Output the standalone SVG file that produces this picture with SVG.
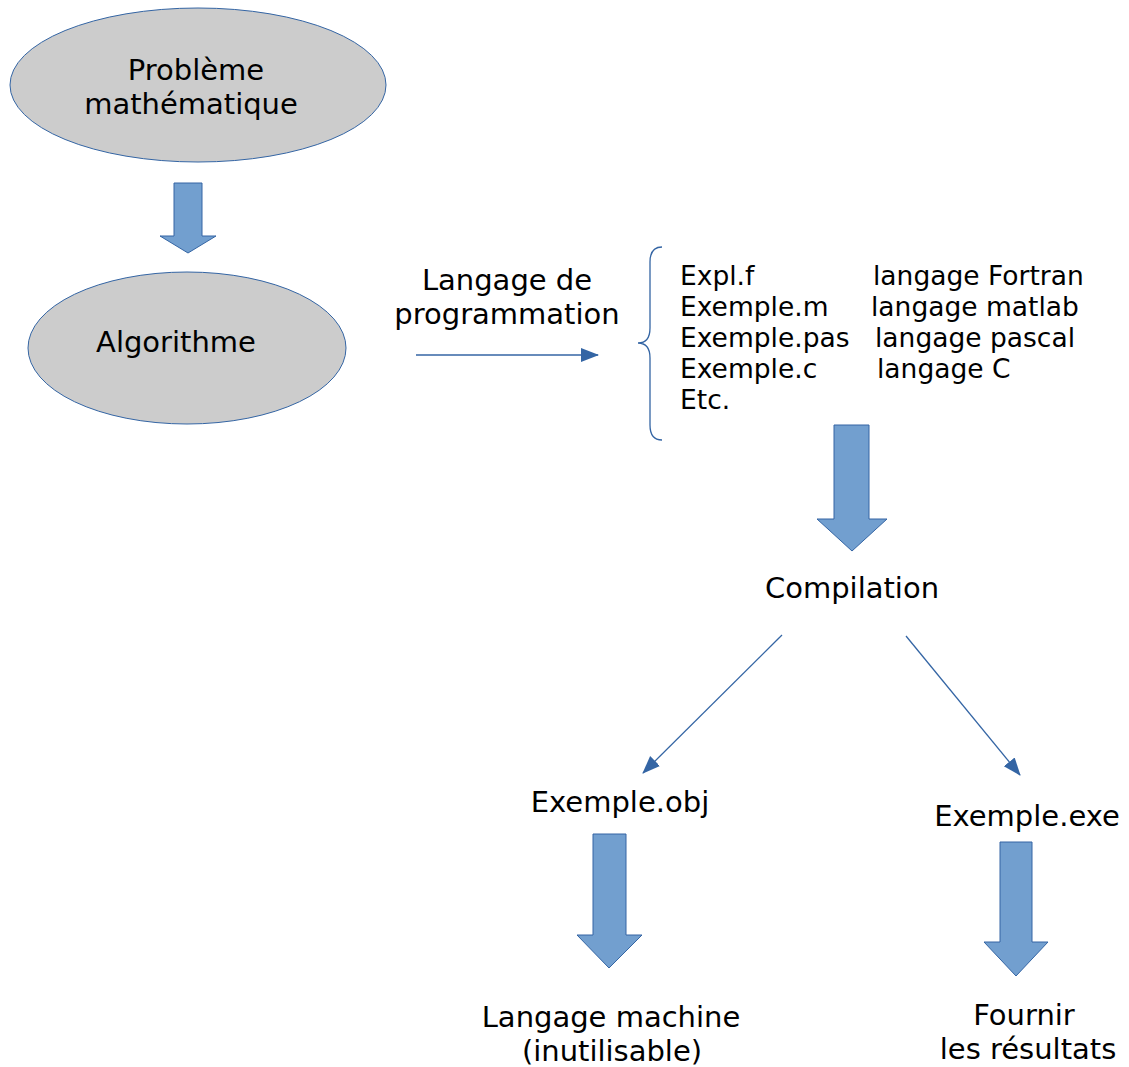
<svg xmlns="http://www.w3.org/2000/svg" width="1129" height="1067" viewBox="0 0 1129 1067">
<style>
.t{font-family:"DejaVu Sans",sans-serif;font-size:29px;fill:#000;text-anchor:middle}
.l{font-family:"DejaVu Sans",sans-serif;font-size:26.5px;fill:#000}
.e{fill:#cccccc;stroke:#3465a4;stroke-width:1}
.b{fill:#729fcf;stroke:#3465a4;stroke-width:1}
.c{fill:none;stroke:#3465a4;stroke-width:1.3}
</style>
<defs>
<marker id="ah2" markerWidth="18" markerHeight="18" refX="17" refY="9" orient="auto" markerUnits="userSpaceOnUse" viewBox="0 0 18 18">
<path d="M0,2 L18,9 L0,16 z" fill="#3465a4"/>
</marker>
</defs>
<g id="probleme">
<ellipse class="e" cx="198" cy="85" rx="188" ry="77"/>
<text class="t" x="196" y="80">Problème</text>
<text class="t" x="191" y="114">mathématique</text>
</g>
<g id="algorithme">
<ellipse class="e" cx="187" cy="348" rx="159" ry="76"/>
<text class="t" x="176" y="352">Algorithme</text>
</g>
<g id="langage-prog">
<text class="t" x="507" y="290">Langage de</text>
<text class="t" x="507" y="324">programmation</text>
</g>
<g id="fichiers">
<path class="c" d="M662,247 Q650,247 650,262 L650,328 Q650,343 638,343 Q650,343 650,358 L650,425 Q650,440 662,440"/>
<text class="l" x="680" y="285">Expl.f</text>
<text class="l" x="873" y="285">langage Fortran</text>
<text class="l" x="680" y="316">Exemple.m</text>
<text class="l" x="871" y="316">langage matlab</text>
<text class="l" x="680" y="347">Exemple.pas</text>
<text class="l" x="875" y="347">langage pascal</text>
<text class="l" x="680" y="378">Exemple.c</text>
<text class="l" x="877" y="378">langage C</text>
<text class="l" x="680" y="409">Etc.</text>
</g>
<g id="compilation">
<text class="t" x="852" y="598">Compilation</text>
</g>
<g id="obj">
<text class="t" x="620" y="812">Exemple.obj</text>
</g>
<g id="exe">
<text class="t" x="1027" y="826">Exemple.exe</text>
</g>
<g id="machine">
<text class="t" x="611" y="1027">Langage machine</text>
<text class="t" x="612" y="1061">(inutilisable)</text>
</g>
<g id="resultats">
<text class="t" x="1024" y="1025">Fournir</text>
<text class="t" x="1028" y="1059">les résultats</text>
</g>
<g id="connectors">
<path class="b" d="M174,183 L202,183 L202,236 L216,236 L188,253 L160,236 L174,236 z"/>
<path class="b" d="M834,425 L869,425 L869,519 L887,519 L852,551 L817,519 L834,519 z"/>
<path class="b" d="M593,834 L626,834 L626,935 L642,935 L609,968 L577,935 L593,935 z"/>
<path class="b" d="M1000,842 L1032,842 L1032,942 L1048,942 L1016,976 L984,942 L1000,942 z"/>
<line class="c" x1="416" y1="355" x2="598" y2="355" marker-end="url(#ah2)"/>
<line class="c" x1="782" y1="635" x2="643" y2="773" marker-end="url(#ah2)"/>
<line class="c" x1="906" y1="636" x2="1020" y2="775" marker-end="url(#ah2)"/>
</g>
</svg>
